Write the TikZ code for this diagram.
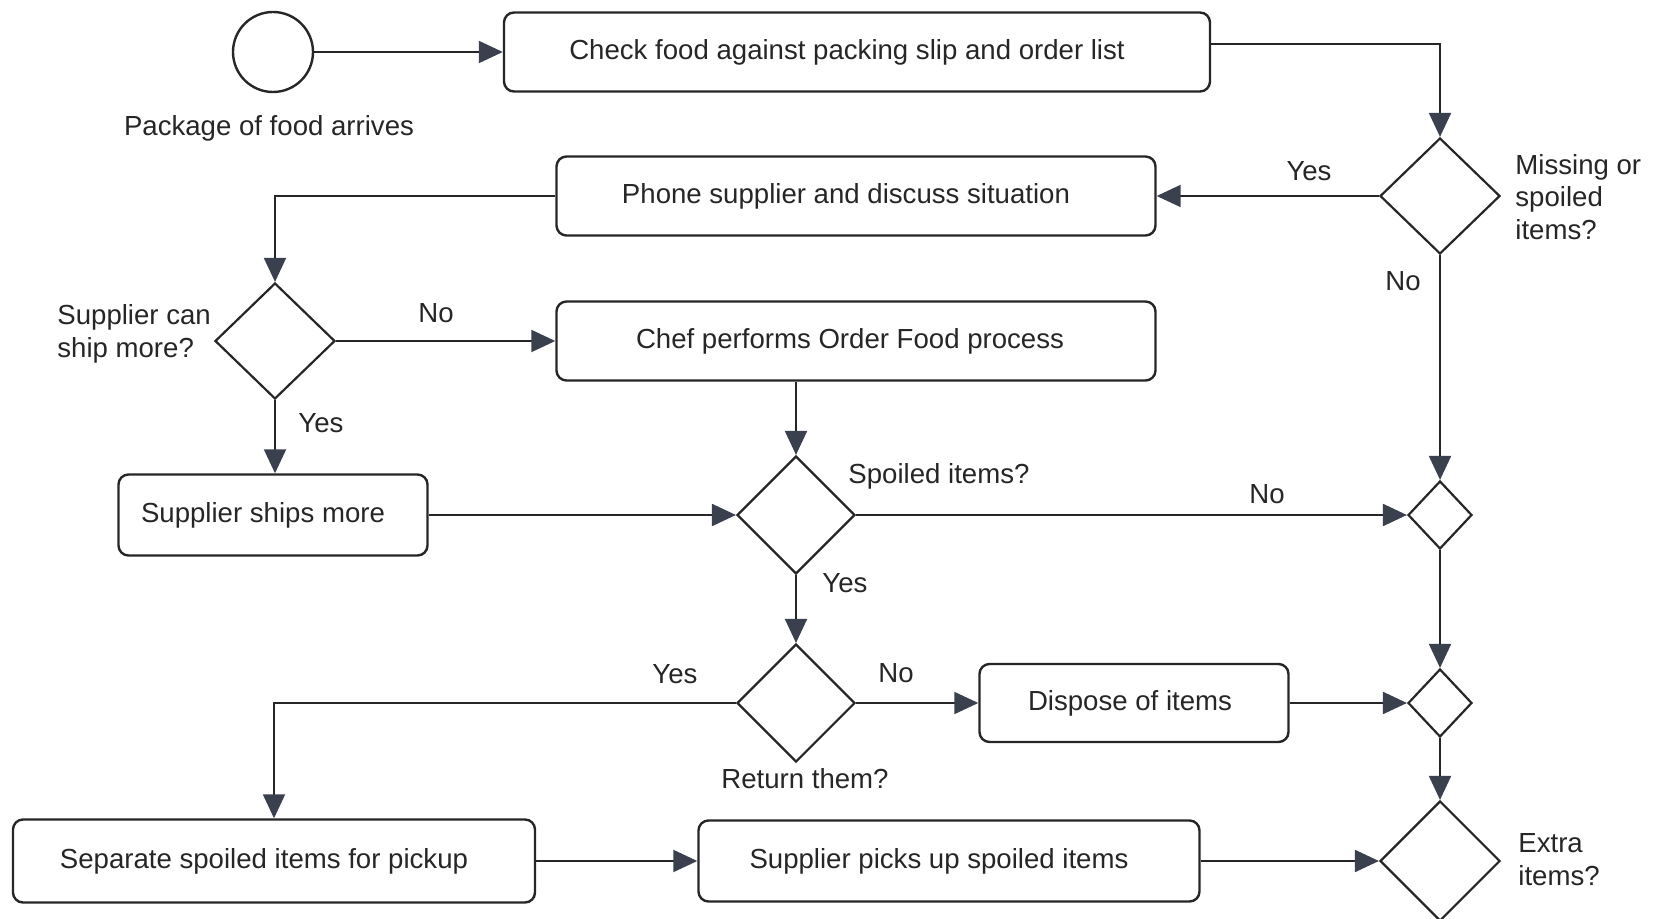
\documentclass[tikz,border=0pt]{standalone}
\usepackage{fontspec}
\setmainfont{Liberation Sans}
\usetikzlibrary{arrows.meta, shapes.geometric}
\definecolor{tipgray}{RGB}{58,64,78}
\definecolor{linegray}{RGB}{38,38,40}

\tikzset{
  activity/.style={draw=linegray, line width=1.2pt, rounded corners=5pt, inner sep=0pt,
    text=black!85, font=\fontsize{13.8}{16}\selectfont},
  decision/.style={draw=linegray, diamond, line width=1.1pt, inner sep=0pt},
  flow/.style={draw=linegray, line width=1pt, -{Triangle[length=12pt,width=11pt,color=tipgray]}},
  note/.style={font=\fontsize{13.8}{16.4}\selectfont, inner sep=0pt, text=black!85},
}

\begin{document}
\begin{tikzpicture}[x=0.5pt, y=-0.5pt]
    \useasboundingbox (0,0) rectangle (1660,919);

    % Start of the process
    \node[draw=linegray, circle, line width=1.2pt, minimum size=40pt, inner sep=0pt] (start) at (273,52) {};
    \node[note] (startlbl) at (269,128) {Package of food arrives};

    % Activities
    \node[activity, minimum width=353pt, minimum height=39.5pt] (check) at (857,52) {Check food against packing slip and order list\hspace*{10pt}};
    \node[activity, minimum width=299.5pt, minimum height=39.5pt] (phone) at (856,196) {Phone supplier and discuss situation\hspace*{10pt}};
    \node[activity, minimum width=299.5pt, minimum height=39.5pt] (chef) at (856,341) {Chef performs Order Food process\hspace*{6pt}};
    \node[activity, minimum width=154.5pt, minimum height=40.5pt] (ships) at (273,515) {Supplier ships more\hspace*{10pt}};
    \node[activity, minimum width=154.5pt, minimum height=39pt] (dispose) at (1134,703) {Dispose of items\hspace*{4pt}};
    \node[activity, minimum width=261pt, minimum height=41.5pt] (separate) at (274,861) {Separate spoiled items for pickup\hspace*{10pt}};
    \node[activity, minimum width=250.5pt, minimum height=40.5pt] (pickup) at (949,861) {Supplier picks up spoiled items\hspace*{10pt}};

    % Decisions and merges
    \node[decision, minimum width=60pt, minimum height=58pt] (miss) at (1440,196) {};
    \node[decision, minimum width=60pt, minimum height=58pt] (supp) at (275,341) {};
    \node[decision, minimum width=59pt, minimum height=59pt] (spoil) at (796,515) {};
    \node[decision, minimum width=59pt, minimum height=59pt] (ret) at (796,703) {};
    \node[decision, minimum width=32pt, minimum height=34pt] (mergeA) at (1440,515) {};
    \node[decision, minimum width=32pt, minimum height=34pt] (mergeB) at (1440,703) {};
    \node[decision, minimum width=60pt, minimum height=60pt] (extra) at (1440,861) {};

    % Decision texts
    \node[note, anchor=west, align=left] (misslbl) at (1515,197) {Missing or\\spoiled\\items?};
    \node[note, anchor=west, align=left] (supplbl) at (57,334) {Supplier can\\ship more?};
    \node[note] (spoillbl) at (939,476) {Spoiled items?};
    \node[note] (retlbl) at (805,779) {Return them?};
    \node[note, anchor=west, align=left] (extralbl) at (1518,860) {Extra\\items?};

    % Branch texts
    \node[note] (yesA) at (1309,171) {Yes};
    \node[note] (noA) at (1403,281) {No};
    \node[note] (noB) at (436,313) {No};
    \node[note] (yesB) at (321,423) {Yes};
    \node[note] (noC) at (1267,494) {No};
    \node[note] (yesC) at (845,583) {Yes};
    \node[note] (yesD) at (675,674) {Yes};
    \node[note] (noD) at (896,673) {No};

    % Connectors
    \draw[flow] (start) -- (check);
    \draw[flow] ([yshift=4pt]check.east) -| (miss.north);
    \draw[flow] (miss.west) -- (phone.east);
    \draw[flow] (miss.south) -- (mergeA.north);
    \draw[flow] (phone.west) -| (supp.north);
    \draw[flow] (supp.east) -- (chef.west);
    \draw[flow] (supp.south) -- (ships.north -| supp.south);
    \draw[flow] (ships.east) -- (spoil.west);
    \draw[flow] (chef.south -| spoil.north) -- (spoil.north);
    \draw[flow] (spoil.east) -- (mergeA.west);
    \draw[flow] (spoil.south) -- (ret.north);
    \draw[flow] (ret.east) -- (dispose.west);
    \draw[flow] (ret.west) -| (separate.north);
    \draw[flow] (dispose.east) -- (mergeB.west);
    \draw[flow] (mergeA.south) -- (mergeB.north);
    \draw[flow] (mergeB.south) -- (extra.north);
    \draw[flow] (separate.east) -- (pickup.west);
    \draw[flow] (pickup.east) -- (extra.west);
\end{tikzpicture}
\end{document}
